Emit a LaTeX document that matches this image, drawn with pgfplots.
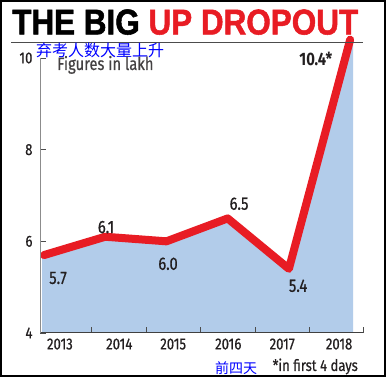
\documentclass[border=0pt]{standalone}
\usepackage{graphicx}
\usepackage{fontspec}
\usepackage{pgfplots}
\pgfplotsset{compat=1.18}
\setmainfont{Fira Sans}[FakeStretch=0.82]
\newfontfamily\labfont{Fira Sans}[FakeStretch=0.82, FakeBold=0.6]
\newfontfamily\titlefont{Liberation Sans}[FakeBold=1.5]
\newfontfamily\cjk{Noto Sans CJK SC}
\definecolor{linered}{RGB}{232,28,36}
\definecolor{areablue}{RGB}{178,204,234}
\definecolor{txt}{RGB}{35,31,32}
\definecolor{anblue}{RGB}{0,0,255}
\begin{document}
\begin{tikzpicture}[x=1pt,y=1pt]
\fill[white] (0pt,0pt) rectangle (386pt,377pt);
\begin{axis}[
  at={(40pt,44pt)}, anchor=south west,
  scale only axis, width=323pt, height=275pt,
  xmin=-0.065, xmax=5.21, ymin=4, ymax=10,
  clip=false, axis on top,
  axis x line*=bottom, axis y line*=left,
  axis line style={-},
  x axis line style={black!75, line width=1pt},
  y axis line style={black!45, line width=1pt},
  tick align=inside,
  major tick length=6pt,
  tick style={black!70, line width=0.9pt},
  xtick={0.78,1.68,2.56,3.45,4.33,5.21},
  xticklabels={},
  extra x ticks={0.26,1.23,2.11,3.01,3.89,4.82},
  extra x tick labels={2013,2014,2015,2016,2017,2018},
  extra x tick style={major tick length=0pt},
  ytick={4,6,8,10},
  yticklabels={4,6,8,10},
  /pgf/number format/assume math mode=true,
  ticklabel style={font=\labfont\fontsize{16}{16}\selectfont, text=txt},
  xticklabel style={yshift=-2pt},
  yticklabel style={xshift=-4pt},
]
\addplot[fill=areablue, draw=none] coordinates {
  (-0.03,4) (-0.03,5.7) (0,5.7) (1,6.1) (2,6.0) (3,6.5) (4,5.4) (5,10.4) (5.05,10.4) (5.05,4)
} -- cycle;
\addplot[linered, line width=8pt, line join=round, line cap=round] coordinates {
  (0,5.7) (1,6.1) (2,6.0) (3,6.5) (4,5.4) (5,10.4)
};
\node[font=\labfont\fontsize{18}{18}\selectfont, text=txt] at (axis cs:0.229,5.20) {5.7};
\node[font=\labfont\fontsize{18}{18}\selectfont, text=txt] at (axis cs:1.013,6.31) {6.1};
\node[font=\labfont\fontsize{18}{18}\selectfont, text=txt] at (axis cs:2.026,5.51) {6.0};
\node[font=\labfont\fontsize{18}{18}\selectfont, text=txt] at (axis cs:3.186,6.82) {6.5};
\node[font=\labfont\fontsize{18}{18}\selectfont, text=txt] at (axis cs:4.150,5.03) {5.4};
\node[font=\fontsize{18}{18}\selectfont\bfseries, text=txt] at (axis cs:4.44,9.98) {10.4*};
\end{axis}
% title and rule
\node[anchor=south west, inner sep=0pt] at (12pt,342pt)
  {\resizebox{346pt}{25pt}{\titlefont\bfseries THE BIG \textcolor{linered}{UP DROPOUT}}};
\draw[black!70, line width=1pt] (11pt,334pt) -- (363pt,334pt);
\node[anchor=west, inner sep=0pt, text=anblue] at (36pt,327pt) {\cjk\fontsize{16}{16}\selectfont 弃考人数大量上升};
\node[anchor=base west, inner sep=0pt, text=txt!85] at (57pt,307pt) {\labfont\fontsize{18}{18}\selectfont Figures in lakh};
\node[anchor=base east, inner sep=0pt, text=txt] at (358pt,6pt) {\labfont\fontsize{16}{16}\selectfont *in first 4 days};
\node[inner sep=0pt, text=anblue] at (236pt,9pt) {\cjk\fontsize{14}{14}\selectfont 前四天};
\draw[black, line width=2pt] (1pt,1pt) rectangle (385pt,376pt);
\end{tikzpicture}
\end{document}
